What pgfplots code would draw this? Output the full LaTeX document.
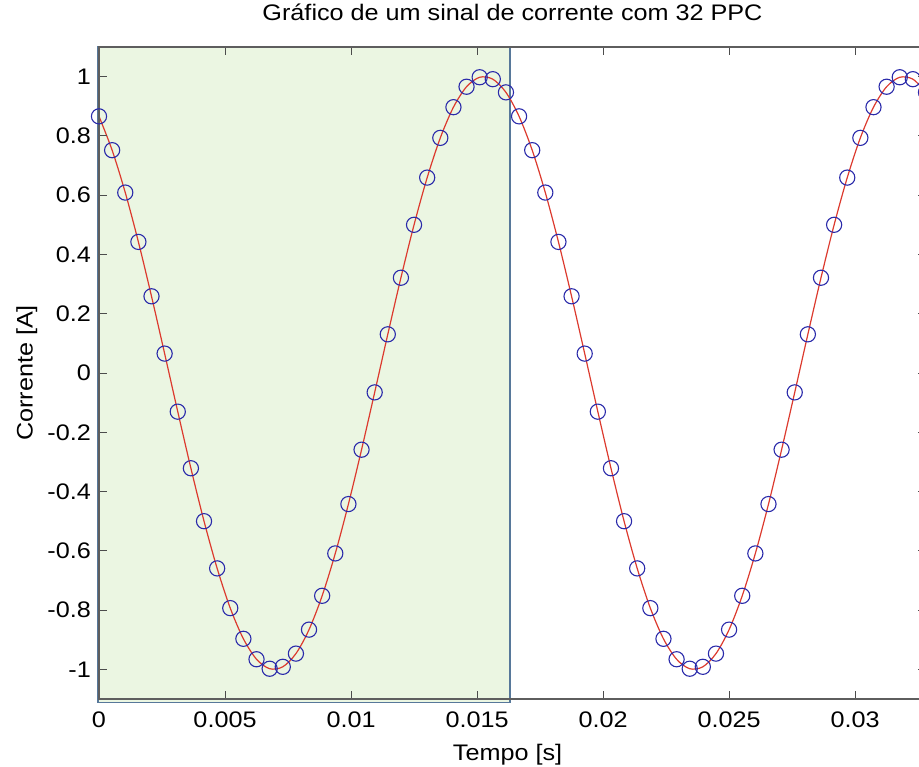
\documentclass[border=0pt]{standalone}
\usepackage{fontspec}
\setmainfont{Liberation Sans}[FakeStretch=1.12]
\usepackage{pgfplots}
\usepackage{pgfplotstable}
\pgfplotsset{compat=1.18}
\definecolor{verde}{HTML}{EBF6E2}
\definecolor{borda}{HTML}{57789A}
\definecolor{vermelho}{HTML}{DC3A2E}
\definecolor{azul}{HTML}{2A2AAA}
\definecolor{eixo}{HTML}{5E5E5E}

% 32 amostras por ciclo, 60 Hz: t [s], i [A]
\pgfplotstableread{
t i
0 0.8660
0.000521 0.7518
0.001042 0.6088
0.001563 0.4423
0.002083 0.2588
0.002604 0.0654
0.003125 -0.1305
0.003646 -0.3214
0.004167 -0.5000
0.004688 -0.6593
0.005208 -0.7934
0.005729 -0.8969
0.006250 -0.9659
0.006771 -0.9979
0.007292 -0.9914
0.007813 -0.9469
0.008333 -0.8660
0.008854 -0.7518
0.009375 -0.6088
0.009896 -0.4423
0.010417 -0.2588
0.010938 -0.0654
0.011458 0.1305
0.011979 0.3214
0.012500 0.5000
0.013021 0.6593
0.013542 0.7934
0.014063 0.8969
0.014583 0.9659
0.015104 0.9979
0.015625 0.9914
0.016146 0.9469
0.016667 0.8660
0.017188 0.7518
0.017708 0.6088
0.018229 0.4423
0.018750 0.2588
0.019271 0.0654
0.019792 -0.1305
0.020313 -0.3214
0.020833 -0.5000
0.021354 -0.6593
0.021875 -0.7934
0.022396 -0.8969
0.022917 -0.9659
0.023438 -0.9979
0.023958 -0.9914
0.024479 -0.9469
0.025000 -0.8660
0.025521 -0.7518
0.026042 -0.6088
0.026563 -0.4423
0.027083 -0.2588
0.027604 -0.0654
0.028125 0.1305
0.028646 0.3214
0.029167 0.5000
0.029688 0.6593
0.030208 0.7934
0.030729 0.8969
0.031250 0.9659
0.031771 0.9979
0.032292 0.9914
0.032813 0.9469
}\amostras

\begin{document}
\begin{tikzpicture}[font=\fontsize{22.5}{27}\selectfont]
\useasboundingbox (0,0) rectangle (919pt,767pt);
\begin{axis}[
  at={(99pt,68pt)}, anchor=south west,
  scale only axis,
  width=827pt, height=652pt,
  xmin=0, xmax=0.0328125,
  ymin=-1.1, ymax=1.1,
  clip=false,
  axis on top,
  axis line style={draw=eixo, line width=1.6pt},
  tick align=inside,
  major tick length=8pt,
  tick style={draw=black!70, line width=0.9pt},
  scaled x ticks=false,
  scaled y ticks=false,
  xtick={0,0.005,0.01,0.015,0.02,0.025,0.03},
  xticklabels={0,0.005,0.01,0.015,0.02,0.025,0.03},
  ytick={-1,-0.8,-0.6,-0.4,-0.2,0,0.2,0.4,0.6,0.8,1},
  yticklabels={-1,-0.8,-0.6,-0.4,-0.2,0,0.2,0.4,0.6,0.8,1},
  /pgf/number format/assume math mode=true,
  xticklabel style={anchor=north, inner sep=0pt, yshift=-13pt},
  yticklabel style={anchor=east, inner sep=0pt, xshift=-8pt},
  title={Gráfico de um sinal de corrente com 32 PPC},
  title style={at={(axis description cs:0.5,1.0307)}, anchor=base},
  xlabel={Tempo [s]},
  xlabel style={at={(axis description cs:0.494,-0.0936)}, anchor=base},
  ylabel={Corrente [A]},
  ylabel style={at={(axis description cs:-0.0804,0.5)}, anchor=base},
]
\addplot[fill=verde, draw=borda, line width=1.4pt]
  coordinates {(-0.00004,-1.112) (0.01631,-1.112) (0.01631,1.1) (-0.00004,1.1)} -- cycle;
\addplot[vermelho, line width=1.2pt, smooth] table[x=t, y=i] {\amostras};
\addplot[only marks, mark=o, mark size=7.6pt, azul, mark options={line width=1.1pt}]
  table[x=t, y=i] {\amostras};
\end{axis}
\end{tikzpicture}
\end{document}
